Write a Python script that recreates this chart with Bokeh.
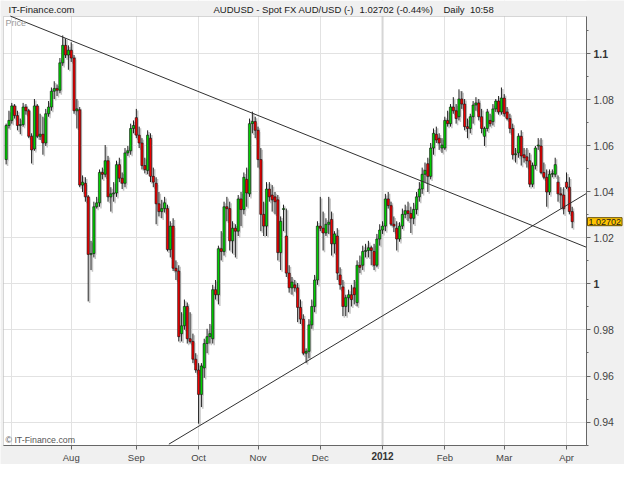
import pandas as pd
from bokeh.plotting import figure
from bokeh.models import ColumnDataSource, FixedTicker, Label, Range1d, Span, BoxAnnotation
from bokeh.embed import file_html
from bokeh.resources import INLINE

# ---------------- data ----------------
trade_dates = pd.bdate_range("2011-06-29", "2012-04-04")

open_ = [
    1.0540, 1.0688, 1.0710, 1.0773, 1.0731, 1.0688, 1.0692, 1.0768, 1.0752, 1.0641,
    1.0586, 1.0773, 1.0641, 1.0650, 1.0612, 1.0739, 1.0768, 1.0837, 1.0849, 1.0841,
    1.0960, 1.1036, 1.0994, 1.1015, 1.0981, 1.0752, 1.0756, 1.0429, 1.0437, 1.0378,
    1.0128, 1.0132, 1.0335, 1.0352, 1.0484, 1.0476, 1.0535, 1.0378, 1.0391, 1.0395,
    1.0518, 1.0459, 1.0437, 1.0569, 1.0578, 1.0675, 1.0722, 1.0646, 1.0612, 1.0514,
    1.0493, 1.0633, 1.0467, 1.0437, 1.0348, 1.0314, 1.0327, 1.0327, 1.0149, 1.0251,
    1.0068, 1.0056, 0.9784, 0.9818, 0.9902, 0.9762, 0.9750, 0.9673, 0.9626, 0.9520,
    0.9635, 0.9741, 0.9771, 0.9762, 0.9975, 0.9953, 1.0153, 1.0141, 1.0335, 1.0327,
    1.0187, 1.0242, 1.0229, 1.0369, 1.0323, 1.0454, 1.0391, 1.0696, 1.0705, 1.0667,
    1.0540, 1.0302, 1.0251, 1.0412, 1.0386, 1.0378, 1.0365, 1.0136, 1.0323, 1.0208,
    1.0047, 0.9983, 0.9996, 0.9983, 0.9898, 0.9847, 0.9699, 0.9707, 0.9822, 0.9902,
    1.0017, 1.0251, 1.0242, 1.0221, 1.0259, 1.0280, 1.0174, 1.0208, 1.0039, 0.9987,
    0.9902, 0.9940, 0.9953, 0.9983, 0.9919, 1.0081, 1.0081, 1.0141, 1.0145, 1.0157,
    1.0141, 1.0081, 1.0195, 1.0234, 1.0251, 1.0369, 1.0340, 1.0259, 1.0242, 1.0195,
    1.0251, 1.0302, 1.0318, 1.0306, 1.0285, 1.0323, 1.0378, 1.0412, 1.0476, 1.0522,
    1.0467, 1.0590, 1.0650, 1.0633, 1.0590, 1.0590, 1.0710, 1.0696, 1.0768, 1.0752,
    1.0726, 1.0803, 1.0781, 1.0683, 1.0675, 1.0726, 1.0777, 1.0786, 1.0726, 1.0641,
    1.0675, 1.0710, 1.0705, 1.0760, 1.0794, 1.0747, 1.0807, 1.0747, 1.0718, 1.0675,
    1.0561, 1.0569, 1.0641, 1.0561, 1.0552, 1.0535, 1.0433, 1.0514, 1.0599, 1.0599,
    1.0484, 1.0463, 1.0399, 1.0476, 1.0476, 1.0442, 1.0391, 1.0386, 1.0442, 1.0420,
    1.0314,
]
high = [
    1.0696, 1.0752, 1.0786, 1.0781, 1.0752, 1.0718, 1.0786, 1.0781, 1.0760, 1.0654,
    1.0803, 1.0781, 1.0739, 1.0726, 1.0760, 1.0794, 1.0853, 1.0880, 1.0866, 1.0981,
    1.1079, 1.1066, 1.1036, 1.1049, 1.0994, 1.0803, 1.0768, 1.0471, 1.0463, 1.0386,
    1.0187, 1.0357, 1.0378, 1.0497, 1.0505, 1.0603, 1.0556, 1.0420, 1.0442, 1.0535,
    1.0548, 1.0484, 1.0590, 1.0599, 1.0696, 1.0710, 1.0760, 1.0683, 1.0633, 1.0548,
    1.0667, 1.0654, 1.0505, 1.0463, 1.0399, 1.0365, 1.0378, 1.0344, 1.0272, 1.0285,
    1.0102, 1.0081, 0.9877, 0.9932, 0.9919, 0.9877, 0.9784, 0.9699, 0.9656, 0.9656,
    0.9762, 0.9805, 0.9826, 0.9996, 1.0017, 1.0166, 1.0229, 1.0357, 1.0378, 1.0357,
    1.0272, 1.0259, 1.0386, 1.0399, 1.0484, 1.0505, 1.0718, 1.0748, 1.0726, 1.0683,
    1.0590, 1.0357, 1.0442, 1.0442, 1.0429, 1.0399, 1.0386, 1.0293, 1.0344, 1.0327,
    1.0081, 1.0030, 1.0017, 1.0004, 0.9932, 0.9868, 0.9720, 0.9847, 0.9932, 1.0039,
    1.0272, 1.0378, 1.0314, 1.0285, 1.0378, 1.0314, 1.0229, 1.0242, 1.0072, 1.0017,
    0.9953, 0.9975, 0.9996, 1.0017, 1.0102, 1.0123, 1.0166, 1.0174, 1.0187, 1.0166,
    1.0174, 1.0217, 1.0259, 1.0272, 1.0391, 1.0399, 1.0357, 1.0293, 1.0272, 1.0268,
    1.0327, 1.0344, 1.0357, 1.0335, 1.0352, 1.0399, 1.0442, 1.0505, 1.0527, 1.0548,
    1.0612, 1.0675, 1.0683, 1.0654, 1.0633, 1.0726, 1.0752, 1.0781, 1.0811, 1.0781,
    1.0845, 1.0837, 1.0803, 1.0718, 1.0739, 1.0794, 1.0811, 1.0803, 1.0760, 1.0683,
    1.0760, 1.0739, 1.0781, 1.0803, 1.0816, 1.0853, 1.0824, 1.0768, 1.0739, 1.0696,
    1.0590, 1.0654, 1.0667, 1.0590, 1.0590, 1.0569, 1.0527, 1.0599, 1.0633, 1.0633,
    1.0527, 1.0497, 1.0497, 1.0497, 1.0548, 1.0471, 1.0420, 1.0420, 1.0484, 1.0463,
    1.0335,
]
low = [
    1.0519, 1.0675, 1.0696, 1.0718, 1.0667, 1.0650, 1.0683, 1.0735, 1.0633, 1.0523,
    1.0578, 1.0633, 1.0625, 1.0561, 1.0599, 1.0726, 1.0752, 1.0803, 1.0816, 1.0828,
    1.0947, 1.0981, 1.0930, 1.0964, 1.0739, 1.0675, 1.0420, 1.0399, 1.0357, 0.9924,
    1.0060, 1.0115, 1.0327, 1.0335, 1.0454, 1.0463, 1.0357, 1.0314, 1.0357, 1.0378,
    1.0442, 1.0412, 1.0420, 1.0556, 1.0561, 1.0654, 1.0633, 1.0590, 1.0497, 1.0480,
    1.0476, 1.0442, 1.0420, 1.0259, 1.0293, 1.0285, 1.0310, 1.0141, 1.0115, 1.0056,
    1.0017, 0.9750, 0.9750, 0.9801, 0.9741, 0.9741, 0.9656, 0.9614, 0.9393, 0.9465,
    0.9592, 0.9699, 0.9741, 0.9741, 0.9932, 0.9911, 1.0102, 1.0123, 1.0272, 1.0145,
    1.0132, 1.0115, 1.0208, 1.0251, 1.0302, 1.0335, 1.0378, 1.0654, 1.0633, 1.0505,
    1.0229, 1.0208, 1.0208, 1.0357, 1.0314, 1.0302, 1.0102, 1.0060, 1.0229, 1.0030,
    0.9962, 0.9953, 0.9966, 0.9834, 0.9826, 0.9690, 0.9656, 0.9677, 0.9805, 0.9877,
    0.9996, 1.0229, 1.0145, 1.0208, 1.0217, 1.0123, 1.0132, 1.0017, 0.9975, 0.9860,
    0.9860, 0.9877, 0.9902, 0.9911, 0.9902, 1.0047, 1.0060, 1.0115, 1.0115, 1.0081,
    1.0060, 1.0072, 1.0166, 1.0217, 1.0229, 1.0327, 1.0251, 1.0225, 1.0145, 1.0183,
    1.0238, 1.0285, 1.0272, 1.0221, 1.0259, 1.0302, 1.0357, 1.0391, 1.0442, 1.0399,
    1.0454, 1.0561, 1.0612, 1.0582, 1.0569, 1.0582, 1.0683, 1.0683, 1.0739, 1.0696,
    1.0710, 1.0760, 1.0667, 1.0633, 1.0654, 1.0696, 1.0752, 1.0710, 1.0654, 1.0599,
    1.0662, 1.0683, 1.0688, 1.0747, 1.0735, 1.0735, 1.0726, 1.0710, 1.0654, 1.0540,
    1.0527, 1.0548, 1.0514, 1.0527, 1.0505, 1.0420, 1.0420, 1.0497, 1.0582, 1.0476,
    1.0454, 1.0335, 1.0386, 1.0463, 1.0463, 1.0357, 1.0327, 1.0302, 1.0412, 1.0302,
    1.0242,
]
close = [
    1.0688, 1.0710, 1.0773, 1.0731, 1.0688, 1.0692, 1.0768, 1.0752, 1.0641, 1.0582,
    1.0773, 1.0641, 1.0650, 1.0612, 1.0739, 1.0768, 1.0837, 1.0849, 1.0841, 1.0960,
    1.1036, 1.0994, 1.1015, 1.0981, 1.0752, 1.0760, 1.0429, 1.0442, 1.0378, 1.0128,
    1.0132, 1.0335, 1.0352, 1.0484, 1.0476, 1.0535, 1.0378, 1.0391, 1.0395, 1.0518,
    1.0459, 1.0437, 1.0569, 1.0578, 1.0675, 1.0688, 1.0646, 1.0612, 1.0514, 1.0497,
    1.0646, 1.0467, 1.0442, 1.0348, 1.0314, 1.0327, 1.0352, 1.0149, 1.0251, 1.0068,
    1.0056, 0.9771, 0.9818, 0.9902, 0.9762, 0.9750, 0.9673, 0.9626, 0.9520, 0.9643,
    0.9741, 0.9771, 0.9784, 0.9975, 0.9953, 1.0153, 1.0141, 1.0335, 1.0327, 1.0187,
    1.0242, 1.0229, 1.0369, 1.0323, 1.0463, 1.0395, 1.0696, 1.0705, 1.0667, 1.0540,
    1.0302, 1.0251, 1.0412, 1.0378, 1.0365, 1.0357, 1.0136, 1.0272, 1.0327, 1.0047,
    0.9983, 1.0008, 0.9983, 0.9898, 0.9847, 0.9699, 0.9707, 0.9822, 0.9902, 1.0017,
    1.0251, 1.0242, 1.0221, 1.0259, 1.0268, 1.0174, 1.0217, 1.0047, 0.9996, 0.9902,
    0.9940, 0.9953, 0.9932, 0.9953, 1.0081, 1.0072, 1.0141, 1.0145, 1.0157, 1.0145,
    1.0081, 1.0195, 1.0234, 1.0251, 1.0369, 1.0340, 1.0259, 1.0251, 1.0195, 1.0251,
    1.0302, 1.0318, 1.0306, 1.0285, 1.0323, 1.0378, 1.0412, 1.0476, 1.0493, 1.0467,
    1.0590, 1.0654, 1.0625, 1.0612, 1.0603, 1.0710, 1.0696, 1.0768, 1.0752, 1.0718,
    1.0803, 1.0781, 1.0683, 1.0675, 1.0726, 1.0777, 1.0786, 1.0726, 1.0675, 1.0675,
    1.0747, 1.0696, 1.0760, 1.0794, 1.0747, 1.0807, 1.0739, 1.0718, 1.0675, 1.0561,
    1.0565, 1.0641, 1.0556, 1.0548, 1.0535, 1.0433, 1.0514, 1.0590, 1.0603, 1.0484,
    1.0463, 1.0399, 1.0476, 1.0480, 1.0518, 1.0391, 1.0386, 1.0327, 1.0420, 1.0314,
    1.02702,
]

month_labels = ["", "Aug", "Sep", "Oct", "Nov", "Dec", "2012", "Feb", "Mar", "Apr"]
bold_month = "2012"
price_ticks = [0.94, 0.96, 0.98, 1.0, 1.02, 1.04, 1.06, 1.08, 1.1]
price_labels = ["0.94", "0.96", "0.98", "1", "1.02", "1.04", "1.06", "1.08", "1.1"]
bold_prices = ["1", "1.1"]
last_price = 1.02702
last_label = "1.02702"
title_left = "IT-Finance.com"
title_parts = ["AUDUSD - Spot FX AUD/USD (-)", "1.02702 (-0.44%)", "Daily\u00a0 10:58"]

# visible price window of the plot area and the x extent (in candle index units)
plot_y0, plot_y1 = 0.92982, 1.11613
plot_x0, plot_x1 = -0.93, 205.06

# hand-drawn trendlines (index, price)
trend_down_idx = [1.5, 205.06]
trend_down_price = [1.1163, 1.0159]
trend_up_idx = [57.5, 205.06]
trend_up_price = [0.9304, 1.0393]

FONT = "Liberation Sans"

# ---------------- page geometry ----------------
W, H = 624, 464
PLOT_LEFT, PLOT_TOP, PLOT_RIGHT, PLOT_BOTTOM = 3, 16, 586, 445
PX_PER_IDX = (PLOT_RIGHT - PLOT_LEFT) / (plot_x1 - plot_x0)
PX_PER_UNIT = (PLOT_BOTTOM - PLOT_TOP) / (plot_y1 - plot_y0)
x_start = plot_x0 - PLOT_LEFT / PX_PER_IDX
x_end = x_start + W / PX_PER_IDX
y_end = plot_y1 + PLOT_TOP / PX_PER_UNIT
y_start = y_end - H / PX_PER_UNIT

# ---------------- derived ----------------
n = len(close)
xs = list(range(n))
month_starts = [i for i in range(1, len(trade_dates))
                if trade_dates[i].month != trade_dates[i - 1].month]
minor_ticks = [t + 0.01 for t in [0.92] + price_ticks]

up = [c >= o for o, c in zip(open_, close)]
src = ColumnDataSource(dict(
    x=xs,
    high=high, low=low,
    top=[max(o, c) for o, c in zip(open_, close)],
    bottom=[min(o, c) for o, c in zip(open_, close)],
    color=["#00d000" if u else "#f00000" for u in up],
))
sh_dx, sh_dy = 0.5, 0.0007
shadow = ColumnDataSource(dict(
    x=[x + sh_dx for x in xs],
    high=[h - sh_dy for h in high], low=[l - sh_dy for l in low],
    top=[max(o, c) - sh_dy for o, c in zip(open_, close)],
    bottom=[min(o, c) - sh_dy for o, c in zip(open_, close)],
))

p = figure(width=W, height=H,
           x_range=Range1d(x_start, x_end), y_range=Range1d(y_start, y_end),
           y_axis_location="right", output_backend="svg", toolbar_location=None,
           min_border_left=0, min_border_right=0, min_border_top=0, min_border_bottom=0,
           background_fill_color="white", border_fill_color="#f0f0f0",
           outline_line_color=None)

# grid
p.xgrid.ticker = FixedTicker(ticks=month_starts)
p.ygrid.ticker = FixedTicker(ticks=price_ticks)
p.grid.grid_line_color = "#e2e2e2"
yr = Span(location=month_starts[6], dimension="height", line_color="#d6d6d6", line_width=2)
yr.level = "underlay"
p.add_layout(yr)

# grey page margins around the plot area, and the plot-area border
BG = "#f0f0f0"
for kw in (dict(right=plot_x0), dict(left=plot_x1), dict(top=plot_y0), dict(bottom=plot_y1)):
    b = BoxAnnotation(fill_color=BG, fill_alpha=1.0, line_color=None, **kw)
    b.level = "underlay"
    p.add_layout(b)
frame_box = BoxAnnotation(left=plot_x0, right=plot_x1, bottom=plot_y0, top=plot_y1,
                          fill_alpha=0.0, line_color="#8a8a8a", line_width=1)
frame_box.level = "underlay"
p.add_layout(frame_box)

# axes, pinned to the edges of the plot area
xa = p.xaxis[0]
xa.fixed_location = plot_y0
xa.bounds = (plot_x0, plot_x1)
xa.ticker = FixedTicker(ticks=month_starts[1:])
xa.major_label_overrides = {m: ("" if lab == bold_month else lab)
                            for m, lab in zip(month_starts[1:], month_labels[1:])}
ya = p.yaxis[0]
ya.fixed_location = plot_x1
ya.bounds = (plot_y0, plot_y1)
ya.ticker = FixedTicker(ticks=price_ticks, minor_ticks=minor_ticks)
ya.major_label_overrides = {t: ("" if lab in bold_prices else lab)
                            for t, lab in zip(price_ticks, price_labels)}
for ax in (xa, ya):
    ax.axis_line_color = "#666666"
    ax.major_tick_line_color = "#666666"
    ax.minor_tick_line_color = "#666666"
    ax.major_tick_in = 0
    ax.major_tick_out = 4
    ax.minor_tick_in = 0
    ax.minor_tick_out = 2
    ax.major_label_text_font = FONT
    ax.major_label_text_color = "#444444"
xa.major_label_text_font_size = "9.5px"
ya.major_label_text_font_size = "10.5px"
xa.major_label_standoff = 2
ya.major_label_standoff = 3

# candles: soft shadow, wicks, bodies
p.segment(x0="x", x1="x", y0="high", y1="low", source=shadow, line_color="#c4c4c4", line_width=1.5)
p.vbar(x="x", width=0.75, top="top", bottom="bottom", source=shadow,
       fill_color="#c8c8c8", line_color=None)
p.segment(x0="x", x1="x", y0="high", y1="low", source=src, line_color="#202020", line_width=1)
p.vbar(x="x", width=0.8, top="top", bottom="bottom", source=src,
       fill_color="color", line_color="#101010", line_width=0.6)

# trendlines
p.line(trend_down_idx, trend_down_price, line_color="#303030", line_width=1)
p.line(trend_up_idx, trend_up_price, line_color="#303030", line_width=1)


def add_label(**kw):
    base = dict(text_font=FONT, text_font_size="11px", text_color="#222222")
    base.update(kw)
    p.add_layout(Label(**base))


def at(cx, cy):
    """canvas position (from top-left) -> screen units of the frame (from bottom-left)"""
    return dict(x=cx, y=H - cy, x_units="screen", y_units="screen")


# title row
add_label(**at(8, 3), text=title_left, text_baseline="top", text_color="#1a1a1a",
          text_font_size="9.6px")
for cx, txt in zip([213, 359, 443], title_parts):
    add_label(**at(cx, 3), text=txt, text_baseline="top", text_color="#1a1a1a",
              text_font_size="9.5px")

# texts in the plot area
add_label(**at(5, PLOT_TOP + 1), text="Price", text_baseline="top",
          text_font_size="9px", text_color="#9a9a9a")
add_label(**at(5, PLOT_BOTTOM - 1), text="\u00a9 IT-Finance.com", text_baseline="bottom",
          text_font_size="8.8px", text_color="#555555")

# bold tick labels
for t, l in zip(price_ticks, price_labels):
    if l in bold_prices:
        add_label(x=PLOT_RIGHT + 7, y=t, x_units="screen", y_units="data", text=l,
                  text_baseline="middle", text_font_style="bold", text_color="#333333",
                  text_font_size="10.5px")
add_label(x=month_starts[6], y=H - (PLOT_BOTTOM + 6), x_units="data", y_units="screen",
          text=bold_month, text_align="center", text_baseline="top",
          text_font_style="bold", text_color="#333333", text_font_size="10px")

# last-price tag
add_label(x=PLOT_RIGHT + 1, y=last_price, x_units="screen", y_units="data",
          text=last_label, text_baseline="middle", text_color="#202020", text_font_size="9px",
          background_fill_color="#ffc400", border_line_color="#6b5200", padding=1)

open("out.html", "w").write(file_html(p, INLINE))
